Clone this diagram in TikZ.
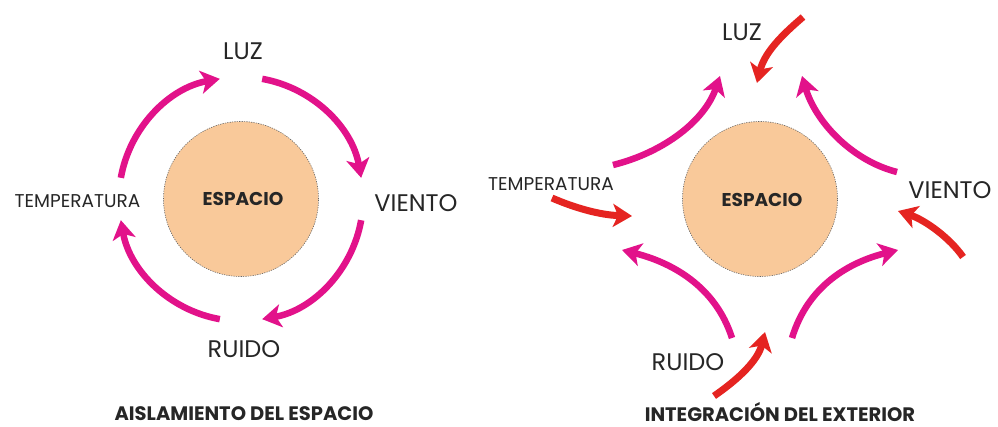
\documentclass[tikz,border=0pt]{standalone}
\usepackage{fontspec}
\setmainfont{Poppins}
\usetikzlibrary{arrows.meta}
\definecolor{pinkarr}{HTML}{E2128A}
\definecolor{redarr}{HTML}{E52421}
\definecolor{peach}{HTML}{F9C99A}
\definecolor{txt}{HTML}{262626}
\tikzset{
  lbl/.style={anchor=base, inner sep=0pt, text=txt, font=\fontsize{24}{24}\selectfont},
  slbl/.style={anchor=base, inner sep=0pt, text=txt, font=\fontsize{18.5}{18.5}\selectfont},
  blbl/.style={anchor=base, inner sep=0pt, text=txt, font=\bfseries\fontsize{18.5}{18.5}\selectfont},
  tlbl/.style={anchor=base, inner sep=0pt, text=txt, font=\bfseries\fontsize{19.5}{19.5}\selectfont},
  space/.style={circle, fill=peach, draw=black!60, dashed, dash pattern=on 1.2pt off 1.2pt, line width=0.6pt, minimum size=155pt, inner sep=0pt},
  parr/.style={draw=pinkarr, line width=6.5pt, -{Stealth[length=19pt, width=23pt, inset=5pt]}},
  rarr/.style={draw=redarr, line width=7pt, -{Stealth[length=19pt, width=23pt, inset=5pt]}}
}
\begin{document}
\begin{tikzpicture}[x=1pt,y=-1pt]
\useasboundingbox (0,0) rectangle (998,426);
\fill[white] (0,0) rectangle (998,426);
% ---------- left diagram ----------
\node[space] (c1) at (241,199) {};
\node[blbl] (e1) at (243,205) {ESPACIO};
\node[lbl] (luz1) at (243,59) {LUZ};
\node[lbl] (vie1) at (416,211) {VIENTO};
\node[lbl] (rui1) at (244,357) {RUIDO};
\node[slbl] (tem1) at (77.5,207) {TEMPERATURA};
\node[tlbl] (t1) at (244,420) {AISLAMIENTO DEL ESPACIO};
\draw[parr] (c1.center) ++(-170:122) arc[start angle=-170, end angle=-100, radius=122];
\draw[parr] (c1.center) ++(-80:122) arc[start angle=-80, end angle=-10, radius=122];
\draw[parr] (c1.center) ++(10:122) arc[start angle=10, end angle=80, radius=122];
\draw[parr] (c1.center) ++(100:122) arc[start angle=100, end angle=170, radius=122];
% ---------- right diagram ----------
\node[space] (c2) at (760,199) {};
\node[blbl] (e2) at (762,206) {ESPACIO};
\node[lbl] (luz2) at (742,40) {LUZ};
\node[lbl] (vie2) at (950,198) {VIENTO};
\node[lbl] (rui2) at (688,370) {RUIDO};
\node[slbl] (tem2) at (551,190) {TEMPERATURA};
\node[tlbl] (t2) at (780,421) {INTEGRACIÓN DEL EXTERIOR};
% pink arrows
\coordinate (p1s) at (613,165); \coordinate (p1e) at (720,76);
\coordinate (p2s) at (897,172); \coordinate (p2e) at (802,76);
\coordinate (p3s) at (732,338); \coordinate (p3e) at (622,250);
\coordinate (p4s) at (792,338); \coordinate (p4e) at (898,250);
\draw[parr] (p1s) .. controls (665,152) and (705,120) .. (p1e);
\draw[parr] (p2s) .. controls (850,160) and (815,120) .. (p2e);
\draw[parr] (p3s) .. controls (715,285) and (670,262) .. (p3e);
\draw[parr] (p4s) .. controls (808,285) and (850,262) .. (p4e);
% red arrows
\coordinate (r1s) at (803,17);  \coordinate (r1e) at (757,83);
\coordinate (r2s) at (552,198); \coordinate (r2e) at (632,216);
\coordinate (r3s) at (963,257); \coordinate (r3e) at (898,211);
\coordinate (r4s) at (714,396); \coordinate (r4e) at (765,332);
\draw[rarr] (r1s) .. controls (788,30) and (765,50) .. (r1e);
\draw[rarr] (r2s) .. controls (575,208) and (600,215) .. (r2e);
\draw[rarr] (r3s) .. controls (950,238) and (925,220) .. (r3e);
\draw[rarr] (r4s) .. controls (740,378) and (758,360) .. (r4e);
\end{tikzpicture}
\end{document}
